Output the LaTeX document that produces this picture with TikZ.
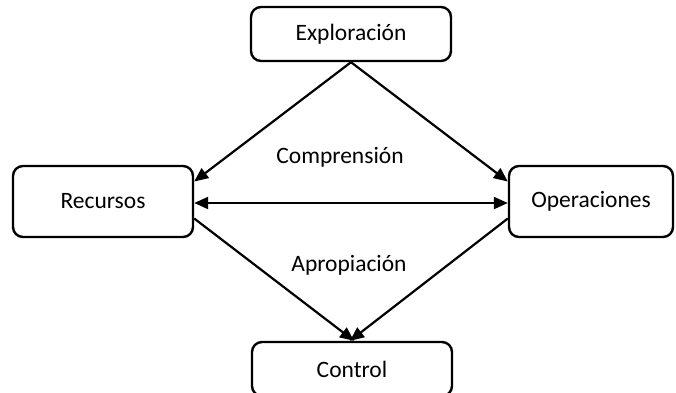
\documentclass[tikz,border=0pt]{standalone}
\usepackage{fontspec}
\setmainfont{Carlito}
\usetikzlibrary{arrows.meta}
\begin{document}
\begin{tikzpicture}[x=1pt,y=-1pt,
  box/.style={draw, line width=2.4pt, rounded corners=10pt, inner sep=0pt, font=\fontsize{23.5}{28}\selectfont},
  arr/.style={line width=2.2pt, -{Triangle[length=14pt,width=12pt]}},
  biarr/.style={line width=2.2pt, {Triangle[length=14pt,width=12pt]}-{Triangle[length=14pt,width=12pt]}},
  lbl/.style={font=\fontsize{23.5}{28}\selectfont, anchor=base, inner sep=0pt}]
\useasboundingbox (0,0) rectangle (676,392);
\node[box, minimum width=200pt, minimum height=54pt] (ex) at (351,34) {Exploración};
\node[box, minimum width=180pt, minimum height=71pt] (rec) at (103,201.5) {Recursos};
\node[box, minimum width=164pt, minimum height=71pt] (op) at (591,201.5) {Operaciones};
\node[box, minimum width=200pt, minimum height=54pt] (ctl) at (352,369) {Control};
\node[lbl] (comp) at (340,163) {Comprensión};
\node[lbl] (apro) at (349,271) {Apropiación};
\draw[arr] (ex.south) -- ([yshift=20pt]rec.east);
\draw[arr] (ex.south) -- ([yshift=20pt]op.west);
\draw[biarr] ([yshift=-1.5pt]rec.east) -- ([yshift=-1.5pt]op.west);
\draw[arr] ([yshift=-17pt]rec.east) -- ([xshift=2pt]ctl.north);
\draw[arr] ([yshift=-17pt]op.west) -- ([xshift=-2pt]ctl.north);
\end{tikzpicture}
\end{document}
